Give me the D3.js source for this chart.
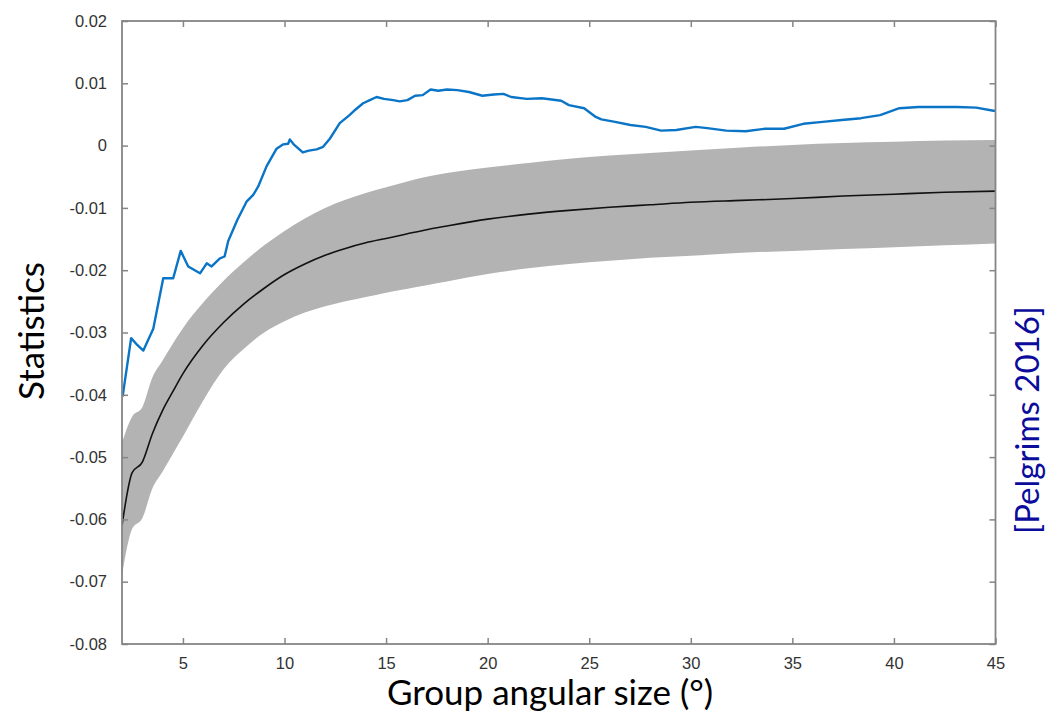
<!DOCTYPE html>
<html>
<head>
<meta charset="utf-8">
<script src="https://cdn.jsdelivr.net/npm/d3@7"></script>
<style>
  html, body { margin: 0; padding: 0; background: #fff; }
  svg { display: block; }
</style>
</head>
<body>
<svg id="chart" width="1059" height="715"></svg>
<script>
// ---- data ----
const xTicks = [5, 10, 15, 20, 25, 30, 35, 40, 45];
const yTicks = [0.02, 0.01, 0, -0.01, -0.02, -0.03, -0.04, -0.05, -0.06, -0.07, -0.08];

const bandX = [2, 2.5, 3, 3.5, 4, 4.5, 5, 6, 7, 8, 9, 10, 11, 12, 13, 14, 15, 16, 17, 18, 20, 22, 24, 26, 28, 30, 32.5, 35, 37.5, 40, 42.5, 45];
const meanY = [-0.0610, -0.0525, -0.0508, -0.0462, -0.0425, -0.0395, -0.0366, -0.0320, -0.0284, -0.0254, -0.0229, -0.0207, -0.0190, -0.0176, -0.0165, -0.0156, -0.0149, -0.0142, -0.0135, -0.0129, -0.0118, -0.0110, -0.0104, -0.0099, -0.0095, -0.0091, -0.0088, -0.0085, -0.0081, -0.0078, -0.0075, -0.0073];
const upperY = [-0.0477, -0.0435, -0.0420, -0.0372, -0.0345, -0.0318, -0.0293, -0.0252, -0.0217, -0.0187, -0.0160, -0.0137, -0.0117, -0.0100, -0.0087, -0.0076, -0.0067, -0.0058, -0.0050, -0.0044, -0.0035, -0.0028, -0.0021, -0.0016, -0.0012, -0.0008, -0.0003, 0.0001, 0.0004, 0.0006, 0.0008, 0.0009];
const lowerY = [-0.0690, -0.0615, -0.0598, -0.0550, -0.0523, -0.0495, -0.0467, -0.0409, -0.0359, -0.0326, -0.0300, -0.0282, -0.0268, -0.0258, -0.0250, -0.0243, -0.0236, -0.0230, -0.0224, -0.0218, -0.0206, -0.0197, -0.0190, -0.0185, -0.0180, -0.0177, -0.0172, -0.0169, -0.0166, -0.0163, -0.0160, -0.0157];

const obsX = [2.03, 2.45, 2.75, 3.05, 3.54, 4.03, 4.52, 4.89, 5.26, 5.84, 6.17, 6.41, 6.82, 7.05, 7.23, 7.68, 8.13, 8.46, 8.7, 9.12, 9.61, 9.94, 10.18, 10.26, 10.45, 10.9, 11.2, 11.58, 11.9, 12.23, 12.72, 13.2, 13.5, 13.87, 14.2, 14.53, 14.9, 15.35, 15.67, 16.05, 16.43, 16.8, 17.19, 17.57, 18.0, 18.51, 19.08, 19.74, 20.3, 20.78, 21.16, 21.92, 22.67, 23.62, 24.0, 24.75, 25.32, 25.6, 26.27, 27.03, 27.78, 28.54, 29.29, 30.24, 30.81, 31.75, 32.7, 33.65, 34.59, 35.54, 36.49, 37.43, 38.38, 39.32, 40.27, 41.21, 42.16, 43.1, 44.05, 44.9, 45];
const obsY = [-0.0403, -0.0309, -0.0320, -0.0329, -0.0294, -0.0213, -0.0213, -0.0169, -0.0194, -0.0205, -0.0189, -0.0194, -0.0181, -0.0178, -0.0153, -0.0119, -0.0090, -0.0079, -0.0066, -0.0033, -0.0005, 0.0002, 0.0003, 0.0010, 0.0002, -0.0011, -0.0008, -0.0006, -0.0002, 0.0011, 0.0036, 0.0049, 0.0058, 0.0068, 0.0073, 0.0078, 0.0075, 0.0073, 0.0071, 0.0073, 0.0080, 0.0081, 0.0090, 0.0088, 0.0090, 0.0089, 0.0086, 0.0080, 0.0082, 0.0083, 0.0078, 0.0075, 0.0076, 0.0072, 0.0065, 0.0060, 0.0046, 0.0042, 0.0038, 0.0033, 0.0030, 0.0024, 0.0025, 0.0030, 0.0028, 0.0024, 0.0023, 0.0027, 0.0027, 0.0035, 0.0038, 0.0041, 0.0044, 0.0049, 0.0060, 0.0062, 0.0062, 0.0062, 0.0061, 0.0056, 0.0056];

const xLabel = "Group angular size (°)";
const yLabel = "Statistics";
const sideNote = "[Pelgrims 2016]";

// ---- layout ----
const L = 122, R = 995.5, T = 21, B = 644;
const svg = d3.select("#chart");
const x = d3.scaleLinear().domain([2, 45]).range([L, R]);
const y = d3.scaleLinear().domain([-0.08, 0.02]).range([B, T]);

svg.append("defs").append("clipPath").attr("id", "clip")
  .append("rect").attr("x", L).attr("y", T).attr("width", R - L).attr("height", B - T);

const band = bandX.map((d, i) => ({x: d, lo: lowerY[i], hi: upperY[i], m: meanY[i]}));
const obs = obsX.map((d, i) => ({x: d, v: obsY[i]}));

const g = svg.append("g").attr("clip-path", "url(#clip)");
g.append("path").datum(band)
  .attr("d", d3.area().curve(d3.curveMonotoneX).x(d => x(d.x)).y0(d => y(d.lo)).y1(d => y(d.hi)))
  .attr("fill", "#b3b3b3");
g.append("path").datum(band)
  .attr("d", d3.line().curve(d3.curveMonotoneX).x(d => x(d.x)).y(d => y(d.m)))
  .attr("fill", "none").attr("stroke", "#111").attr("stroke-width", 1.6);
g.append("path").datum(obs)
  .attr("d", d3.line().x(d => x(d.x)).y(d => y(d.v)))
  .attr("fill", "none").attr("stroke", "#0a74c6").attr("stroke-width", 2.4)
  .attr("stroke-linejoin", "round");

// ---- axes (box style, inward ticks) ----
const axisColor = "#858585";
const fmtY = d => d === 0 ? "0" : d3.format(".2f")(d).replace("\u2212", "-");
const styleAxis = sel => {
  sel.select(".domain").remove();
  sel.selectAll(".tick line").attr("stroke", axisColor).attr("stroke-width", 1.5);
  sel.selectAll(".tick text").attr("fill", "#333")
    .style("font-family", "'Liberation Sans', Arial, Helvetica, sans-serif").style("font-size", "16.5px");
};
svg.append("g").attr("transform", `translate(0,${B})`)
  .call(d3.axisBottom(x).tickValues(xTicks).tickSize(-6).tickPadding(13).tickFormat(d3.format("d")))
  .call(styleAxis);
svg.append("g").attr("transform", `translate(0,${T})`)
  .call(d3.axisTop(x).tickValues(xTicks).tickSize(-6).tickFormat(""))
  .call(styleAxis);
svg.append("g").attr("transform", `translate(${L},0)`)
  .call(d3.axisLeft(y).tickValues(yTicks).tickSize(-6).tickPadding(15).tickFormat(fmtY))
  .call(styleAxis);
svg.append("g").attr("transform", `translate(${R},0)`)
  .call(d3.axisRight(y).tickValues(yTicks).tickSize(-6).tickFormat(""))
  .call(styleAxis);
svg.append("rect").attr("x", L).attr("y", T).attr("width", R - L).attr("height", B - T)
  .attr("fill", "none").attr("stroke", axisColor).attr("stroke-width", 1.8);

// ---- labels ----
svg.append("text").attr("x", 550).attr("y", 705)
  .attr("text-anchor", "middle").attr("fill", "#000")
  .style("font-family", "Lato, 'Open Sans', sans-serif").style("font-size", "35px")
  .text(xLabel);
svg.append("text").attr("transform", "translate(44,331) rotate(-90)")
  .attr("text-anchor", "middle").attr("fill", "#000")
  .style("font-family", "Lato, 'Open Sans', sans-serif").style("font-size", "35px")
  .text(yLabel);
svg.append("text").attr("transform", "translate(1039,420) rotate(-90)")
  .attr("text-anchor", "middle").attr("fill", "#0b0b9c")
  .style("font-family", "Lato, 'Open Sans', sans-serif").style("font-size", "33px")
  .text(sideNote);
</script>
</body>
</html>
